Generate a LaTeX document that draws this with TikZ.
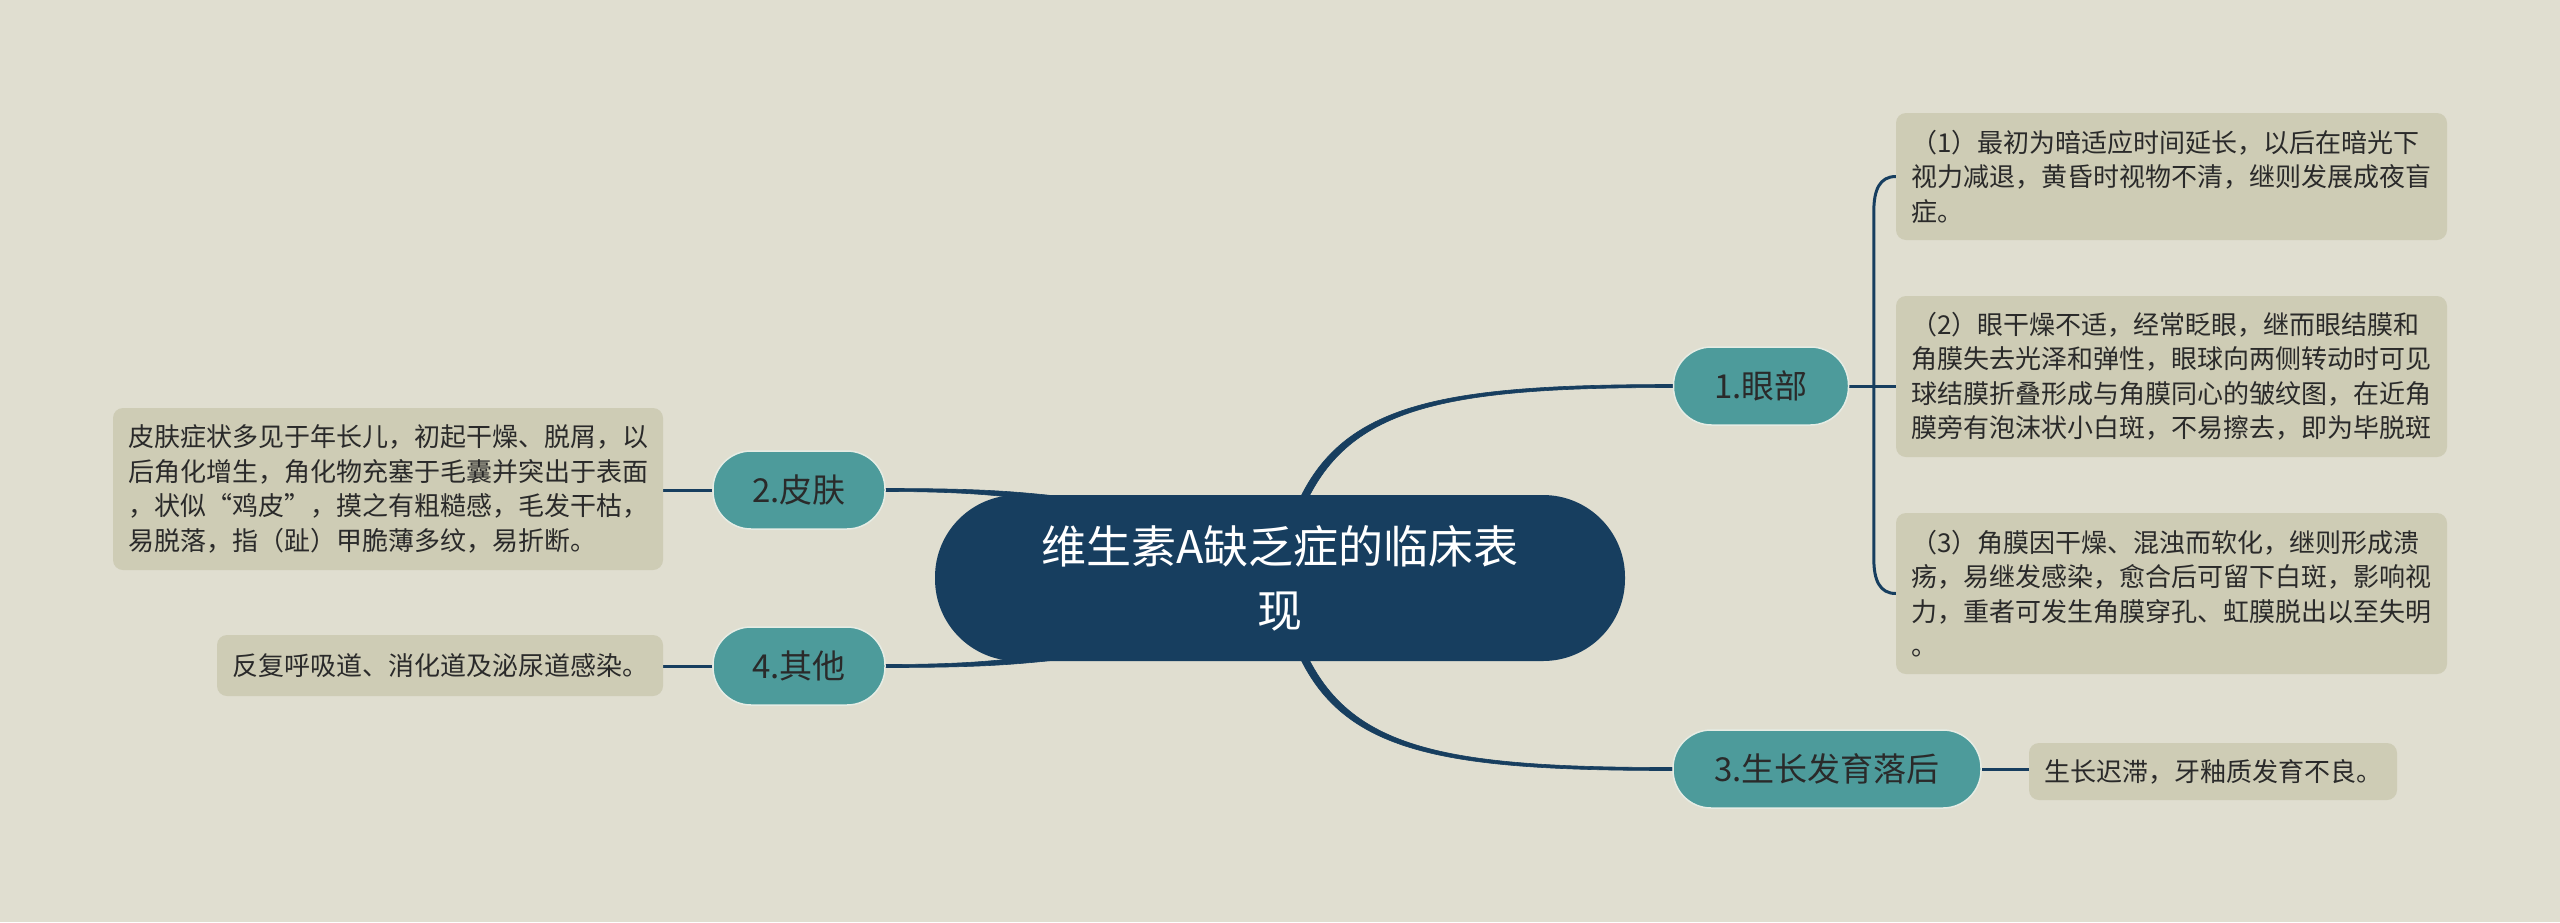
\documentclass[tikz,border=0pt]{standalone}
\usepackage{fontspec}
\newfontfamily\cjk{Noto Sans CJK SC}
\usetikzlibrary{calc}
\definecolor{bgc}{HTML}{E0DED0}
\definecolor{navy}{HTML}{173E5F}
\definecolor{brteal}{HTML}{4D9B9B}
\definecolor{tealedge}{HTML}{E6ECE4}
\definecolor{leaffill}{HTML}{CECCB5}
\definecolor{txt}{HTML}{2A2A2A}
\pgfdeclarelayer{back}
\pgfdeclarelayer{lines}
\pgfsetlayers{back,lines,main}
\begin{document}
\begin{tikzpicture}[x=1pt,y=-1pt,
  root/.style={fill=navy, text=white, rounded corners=82pt, minimum width=690pt, minimum height=166pt,
    font=\cjk\fontsize{45pt}{64pt}\selectfont, align=center, inner sep=0pt},
  branch/.style={fill=brteal, draw=tealedge, line width=1.5pt, rounded corners=38pt, minimum height=78pt,
    text=txt, font=\cjk\fontsize{33pt}{40pt}\selectfont, inner sep=0pt},
  leaf/.style={fill=leaffill, rounded corners=10pt, text=txt, align=left,
    font=\cjk\fontsize{26pt}{34.5pt}\selectfont, inner sep=0pt},
  taper/.style={fill=navy, draw=navy, line width=0.6pt},
  conn2/.style={draw=navy, line width=3pt}]
\begin{pgfonlayer}{back}
\fill[bgc] (0,0) rectangle (2560,922);
\end{pgfonlayer}
\useasboundingbox (0,0) rectangle (2560,922);

\node[root] (c) at (1280,578) {维生素A缺乏症的临床表\\现};
\node[branch, minimum width=175pt] (b1) at (1761,386) {1.眼部};
\node[branch, minimum width=172pt] (b2) at (799,490) {2.皮肤};
\node[branch, minimum width=308pt] (b3) at (1827,769) {3.生长发育落后};
\node[branch, minimum width=172pt] (b4) at (799,666) {4.其他};

\node[leaf, minimum width=551pt, minimum height=127pt] (l1) at (2171.5,176.5)
  {（1）最初为暗适应时间延长，以后在暗光下\\视力减退，黄昏时视物不清，继则发展成夜盲\\症。};
\node[leaf, minimum width=551pt, minimum height=161pt] (l2) at (2171.5,376.5)
  {（2）眼干燥不适，经常眨眼，继而眼结膜和\\角膜失去光泽和弹性，眼球向两侧转动时可见\\球结膜折叠形成与角膜同心的皱纹图，在近角\\膜旁有泡沫状小白斑，不易擦去，即为毕脱斑};
\node[leaf, minimum width=551pt, minimum height=161pt] (l3) at (2171.5,593.5)
  {（3）角膜因干燥、混浊而软化，继则形成溃\\疡，易继发感染，愈合后可留下白斑，影响视\\力，重者可发生角膜穿孔、虹膜脱出以至失明\\。};
\node[leaf, minimum width=368pt, minimum height=57pt] (l4) at (2213,771.5)
  {生长迟滞，牙釉质发育不良。};
\node[leaf, minimum width=550pt, minimum height=162pt] (l5) at (388,489)
  {皮肤症状多见于年长儿，初起干燥、脱屑，以\\后角化增生，角化物充塞于毛囊并突出于表面\\，状似“鸡皮”，摸之有粗糙感，毛发干枯，\\易脱落，指（趾）甲脆薄多纹，易折断。};
\node[leaf, minimum width=446pt, minimum height=61pt] (l6) at (440,665.5)
  {反复呼吸道、消化道及泌尿道感染。};

\begin{pgfonlayer}{lines}
% tapered connectors from the central topic
\path[taper] ($(c.north)+(17,10)$) .. controls +(45,-102) and +(-230,0) .. ($(b1.west)+(0,-1.5)$)
  -- ($(b1.west)+(0,1.5)$) .. controls +(-228,0) and +(45,-98) .. ($(c.north)+(25,10)$) -- cycle;
\path[taper] ($(c.south)+(17,-10)$) .. controls +(45,102) and +(-230,0) .. ($(b3.west)+(0,1.5)$)
  -- ($(b3.west)+(0,-1.5)$) .. controls +(-228,0) and +(45,98) .. ($(c.south)+(25,-10)$) -- cycle;
\path[taper] ($(b2.east)+(0,-1.5)$) .. controls +(120,0) and +(-100,-12) .. ($(c.north)+(-150,10)$)
  -- ($(c.north)+(-150,18)$) .. controls +(-100,-12) and +(120,0) .. ($(b2.east)+(0,1.5)$) -- cycle;
\path[taper] ($(b4.east)+(0,1.5)$) .. controls +(120,0) and +(-100,12) .. ($(c.south)+(-150,-10)$)
  -- ($(c.south)+(-150,-18)$) .. controls +(-100,12) and +(120,0) .. ($(b4.east)+(0,-1.5)$) -- cycle;
% thin connectors
\draw[conn2] (b1.east) -- (b1.east -| l2.west);
\draw[conn2] (l1.west) .. controls +(-16,0) and +(0,-22) .. ($(l1.west)+(-22,35)$)
  -- ($(l3.west)+(-22,-35)$) .. controls +(0,22) and +(-16,0) .. (l3.west);
\draw[conn2] (b3.east) -- (b3.east -| l4.west);
\draw[conn2] (b2.west) -- (b2.west -| l5.east);
\draw[conn2] (b4.west) -- (b4.west -| l6.east);
\end{pgfonlayer}
\end{tikzpicture}
\end{document}
